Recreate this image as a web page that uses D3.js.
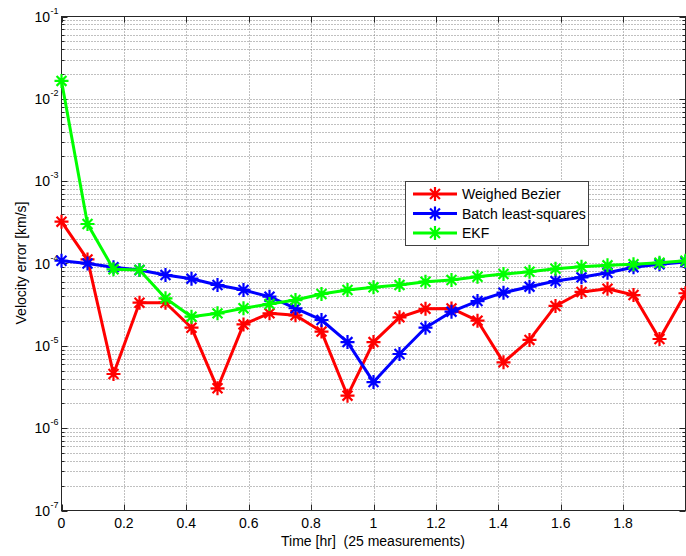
<!DOCTYPE html>
<html>
<head>
<meta charset="utf-8">
<script src="https://cdn.jsdelivr.net/npm/d3@7"></script>
<style>
  html, body { margin: 0; padding: 0; background: #fff; }
  svg { display: block; font-family: "Liberation Sans", Arial, sans-serif; }
</style>
</head>
<body>
<svg id="chart" width="686" height="556"></svg>
<script>
// Sample times: 25 measurements every 5 minutes over 2 hours
const times = d3.range(25).map(k => k / 12);

const seriesNames = ["Weighed Bezier", "Batch least-squares", "EKF"];
const seriesColors = ["#ff0000", "#0000ff", "#00ff00"];

const bezier = [3.22e-4, 1.12e-4, 4.55e-6, 3.34e-5, 3.34e-5, 1.66e-5, 3.05e-6, 1.82e-5,
  2.48e-5, 2.35e-5, 1.49e-5, 2.48e-6, 1.11e-5, 2.22e-5, 2.82e-5, 2.85e-5, 2.02e-5, 6.3e-6,
  1.18e-5, 3.05e-5, 4.51e-5, 4.94e-5, 4.14e-5, 1.21e-5, 4.35e-5];
const batch = [1.08e-4, 1.0e-4, 9.0e-5, 8.34e-5, 7.25e-5, 6.54e-5, 5.48e-5, 4.77e-5,
  3.95e-5, 2.86e-5, 2.06e-5, 1.11e-5, 3.63e-6, 7.96e-6, 1.66e-5, 2.6e-5, 3.5e-5, 4.42e-5,
  5.23e-5, 6.12e-5, 6.79e-5, 7.73e-5, 8.99e-5, 9.78e-5, 1.04e-4];
const ekf = [1.65e-2, 3.02e-4, 8.5e-5, 8.34e-5, 3.78e-5, 2.26e-5, 2.48e-5, 2.86e-5,
  3.22e-5, 3.6e-5, 4.26e-5, 4.77e-5, 5.14e-5, 5.48e-5, 6.01e-5, 6.3e-5, 6.91e-5, 7.45e-5,
  7.94e-5, 8.64e-5, 9.14e-5, 9.5e-5, 9.78e-5, 1.02e-4, 1.08e-4];
const seriesValues = [bezier, batch, ekf];

const xTicks = [0, 0.2, 0.4, 0.6, 0.8, 1, 1.2, 1.4, 1.6, 1.8];
const yExponents = [-7, -6, -5, -4, -3, -2, -1];

const xLabel = "Time [hr]  (25 measurements)";
const yLabel = "Velocity error [km/s]";

const svg = d3.select("#chart");
const pLeft = 61.5, pRight = 685.5, pTop = 16.5, pBottom = 510.5;

const x = d3.scaleLinear().domain([0, 2]).range([pLeft, pRight]);
const y = d3.scaleLog().domain([1e-7, 1e-1]).range([pBottom, pTop]);

// minor decade values 2..9 x 10^k
const minorVals = [];
for (let e = -7; e < -1; e++) for (let m = 2; m <= 9; m++) minorVals.push(m * Math.pow(10, e));
const majorVals = yExponents.map(e => Math.pow(10, e));

// grid
const grid = svg.append("g").attr("stroke", "#808080").attr("stroke-width", 1)
  .attr("stroke-dasharray", "1,2").attr("fill", "none");
minorVals.concat(majorVals.slice(1, -1)).forEach(v => {
  const yy = Math.round(y(v)) + 0.5;
  grid.append("line").attr("x1", pLeft).attr("x2", pRight).attr("y1", yy).attr("y2", yy);
});
xTicks.slice(1).forEach(t => {
  const xx = Math.round(x(t)) + 0.5;
  grid.append("line").attr("x1", xx).attr("x2", xx).attr("y1", pTop).attr("y2", pBottom);
});

// axis box and inward ticks
const axes = svg.append("g").attr("stroke", "#262626").attr("stroke-width", 1).attr("fill", "none");
axes.append("rect").attr("x", pLeft).attr("y", pTop).attr("width", pRight - pLeft).attr("height", pBottom - pTop);
xTicks.forEach(t => {
  const xx = Math.round(x(t)) + 0.5;
  axes.append("line").attr("x1", xx).attr("x2", xx).attr("y1", pBottom).attr("y2", pBottom - 6);
  axes.append("line").attr("x1", xx).attr("x2", xx).attr("y1", pTop).attr("y2", pTop + 6);
});
majorVals.forEach(v => {
  const yy = Math.round(y(v)) + 0.5;
  axes.append("line").attr("x1", pLeft).attr("x2", pLeft + 6).attr("y1", yy).attr("y2", yy);
  axes.append("line").attr("x1", pRight).attr("x2", pRight - 6).attr("y1", yy).attr("y2", yy);
});
minorVals.forEach(v => {
  const yy = Math.round(y(v)) + 0.5;
  axes.append("line").attr("x1", pLeft).attr("x2", pLeft + 3).attr("y1", yy).attr("y2", yy);
  axes.append("line").attr("x1", pRight).attr("x2", pRight - 3).attr("y1", yy).attr("y2", yy);
});

// tick labels
const txt = svg.append("g").attr("fill", "#000");
xTicks.forEach(t => {
  txt.append("text").attr("x", x(t)).attr("y", 528).attr("text-anchor", "middle")
    .attr("font-size", 14).text(d3.format("~g")(t));
});
yExponents.forEach(e => {
  txt.append("text").attr("x", 50).attr("y", y(Math.pow(10, e)) + 5)
    .attr("text-anchor", "end").attr("font-size", 14).text("10");
  txt.append("text").attr("x", 50.5).attr("y", y(Math.pow(10, e)) - 3)
    .attr("text-anchor", "start").attr("font-size", 9).text(String(e));
});

// axis titles
txt.append("text").attr("x", 373).attr("y", 546).attr("text-anchor", "middle")
  .attr("font-size", 14).style("white-space", "pre").text(xLabel);
txt.append("text").attr("transform", "translate(26,263) rotate(-90)")
  .attr("text-anchor", "middle").attr("font-size", 14).text(yLabel);

// asterisk marker
function star(g, cx, cy, r, color) {
  const d = r * Math.SQRT1_2;
  const p = `M${cx - r},${cy}L${cx + r},${cy}M${cx},${cy - r}L${cx},${cy + r}` +
    `M${cx - d},${cy - d}L${cx + d},${cy + d}M${cx - d},${cy + d}L${cx + d},${cy - d}`;
  g.append("path").attr("d", p).attr("stroke", color).attr("stroke-width", 2.2).attr("fill", "none");
}

const line = d3.line().x((d, i) => x(times[i])).y(d => y(d));
const plot = svg.append("g");
seriesValues.forEach((vals, si) => {
  const g = plot.append("g");
  g.append("path").attr("d", line(vals)).attr("fill", "none")
    .attr("stroke", seriesColors[si]).attr("stroke-width", 3).attr("stroke-linejoin", "round");
  vals.forEach((v, i) => star(g, x(times[i]), y(v), 7, seriesColors[si]));
});

// legend
const leg = svg.append("g");
leg.append("rect").attr("x", 405.5).attr("y", 181.5).attr("width", 183).attr("height", 64)
  .attr("fill", "#fff").attr("stroke", "#404040").attr("stroke-width", 1);
seriesNames.forEach((name, i) => {
  const yy = 194 + i * 19.5;
  leg.append("line").attr("x1", 413).attr("x2", 457).attr("y1", yy).attr("y2", yy)
    .attr("stroke", seriesColors[i]).attr("stroke-width", 3);
  star(leg, 435, yy, 7, seriesColors[i]);
  leg.append("text").attr("x", 462).attr("y", yy + 5).attr("font-size", 14).text(name);
});
</script>
</body>
</html>
